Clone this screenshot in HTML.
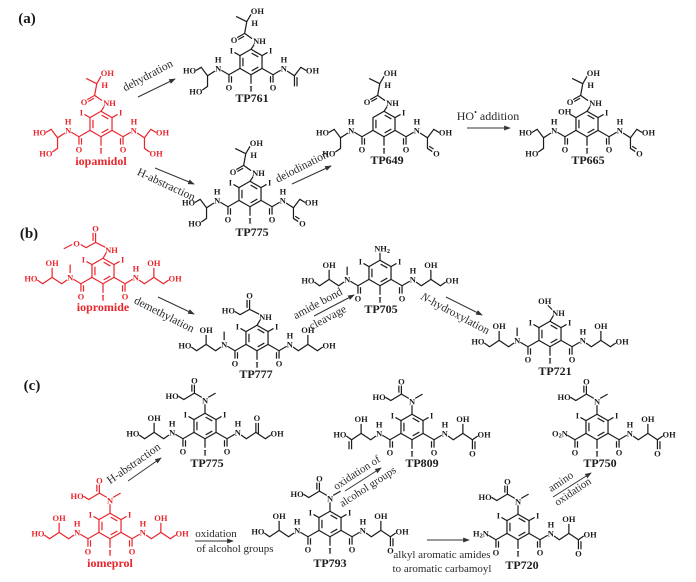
<!DOCTYPE html>
<html><head><meta charset="utf-8"><style>
html,body{margin:0;padding:0;background:#fff;}
svg{display:block;}
text{font-family:"Liberation Serif",serif;}
.t{font-size:8px;font-weight:bold;text-anchor:middle;dominant-baseline:central;fill:currentColor;}
.lb{font-size:12px;font-weight:bold;text-anchor:middle;dominant-baseline:central;}
.ar{font-size:12px;text-anchor:middle;dominant-baseline:central;fill:#2a2a2a;}
.ar3{font-size:11.5px;text-anchor:middle;dominant-baseline:central;fill:#2a2a2a;}
.ar2{font-size:11px;text-anchor:middle;dominant-baseline:central;fill:#2a2a2a;}
.pl{font-size:15px;font-weight:bold;text-anchor:middle;dominant-baseline:central;fill:#1a1a1a;}
.k{color:#1c1c1c;}
.r{color:#e8262d;}
.m path{fill:none;stroke:currentColor;stroke-width:1.15;}
.arr{stroke:#333;stroke-width:1;fill:none;}
</style></head><body>
<svg width="696" height="582" viewBox="0 0 696 582" xmlns="http://www.w3.org/2000/svg">
<defs>
<g id="ring" fill="none" stroke="currentColor" stroke-width="1.15">
<polygon points="0,-12 10.4,-6 10.4,6 0,12 -10.4,6 -10.4,-6"/>
<path d="M-7.6,-4V4M0.6,-8.4L6.9,-4.8M0.6,8.4L6.9,4.8"/>
<path d="M-10.4,6L-20.8,12L-28,7.8M-20.8,12V19.5M-18.4,13.4V19.5M10.4,6L20.8,12L28,7.8M20.8,12V19.5M18.4,13.4V19.5M0,12V20.5M10.4,-6L15.6,-9"/>
</g>
<path id="uli" d="M-10.4,-6L-15.6,-9" fill="none" stroke="currentColor" stroke-width="1.15"/>
<marker id="ah" viewBox="0 0 8 6" refX="7" refY="3" markerWidth="7" markerHeight="5" orient="auto" markerUnits="userSpaceOnUse">
<path d="M0,0L8,3L0,6z" fill="#333"/>
</marker>
</defs>

<rect width="696" height="582" fill="#fff"/>

<!-- panel labels -->
<text class="pl" x="27" y="19">(a)</text>
<text class="pl" x="29" y="234">(b)</text>
<text class="pl" x="32" y="386">(c)</text>

<!-- ============ ROW A ============ -->
<!-- iopamidol -->
<g class="m r" transform="translate(101,124) scale(1.06)">
<use href="#ring"/><use href="#uli"/>
<path d="M0,-12L3,-16.5M1,-22L-6,-27M-6,-27L-13,-23M-6.5,-24.3L-12,-21.2M-6,-27L-4,-38M-4,-38L-14,-43M-4,-38L0,-45"/>
<path d="M-34,8.5L-41,13L-47,5L-52,8M-41,13V23L-46,26.5M34,8.5L41,13L47,5L52,8M41,13V23L46,26.5"/>
<text class="t" x="8" y="-20">NH</text><text class="t" x="-16" y="-21">O</text><text class="t" x="3.5" y="-37">H</text><text class="t" x="6" y="-48">OH</text>
<text class="t" x="-18.5" y="-11">I</text><text class="t" x="18.5" y="-11">I</text><text class="t" x="0" y="25">I</text>
<text class="t" x="-20.8" y="24">O</text><text class="t" x="20.8" y="24">O</text>
<text class="t" x="-31" y="6">N</text><text class="t" x="-31" y="-2.5">H</text><text class="t" x="31" y="6">N</text><text class="t" x="31" y="-2.5">H</text>
<text class="t" x="-58" y="8">HO</text><text class="t" x="-52" y="28">HO</text><text class="t" x="58" y="8">OH</text><text class="t" x="52" y="28">OH</text>
</g>
<text class="lb" x="101" y="161" fill="#e8262d">iopamidol</text>

<!-- TP761 -->
<g class="m k" transform="translate(251,62) scale(1.06)">
<use href="#ring"/><use href="#uli"/>
<path d="M0,-12L3,-16.5M1,-22L-6,-27M-6,-27L-13,-23M-6.5,-24.3L-12,-21.2M-6,-27L-4,-38M-4,-38L-14,-43M-4,-38L0,-45"/>
<path d="M-34,8.5L-41,13L-47,5L-52,8M-41,13V23L-46,26.5M34,8.5L41,13L47,5L52,8M41,13V23M43.4,14.3V23"/>
<text class="t" x="8" y="-20">NH</text><text class="t" x="-16" y="-21">O</text><text class="t" x="3.5" y="-37">H</text><text class="t" x="6" y="-48">OH</text>
<text class="t" x="-18.5" y="-11">I</text><text class="t" x="18.5" y="-11">I</text><text class="t" x="0" y="25">I</text>
<text class="t" x="-20.8" y="24">O</text><text class="t" x="20.8" y="24">O</text>
<text class="t" x="-31" y="6">N</text><text class="t" x="-31" y="-2.5">H</text><text class="t" x="31" y="6">N</text><text class="t" x="31" y="-2.5">H</text>
<text class="t" x="-58" y="8">HO</text><text class="t" x="-52" y="28">HO</text><text class="t" x="58" y="8">OH</text>
</g>
<text class="lb" x="252" y="98" fill="#1c1c1c">TP761</text>

<!-- TP775 (a) -->
<g class="m k" transform="translate(250,194) scale(1.06)">
<use href="#ring"/><use href="#uli"/>
<path d="M0,-12L3,-16.5M1,-22L-6,-27M-6,-27L-13,-23M-6.5,-24.3L-12,-21.2M-6,-27L-4,-38M-4,-38L-14,-43M-4,-38L0,-45"/>
<path d="M-34,8.5L-41,13L-47,5L-52,8M-41,13V23L-46,26.5M34,8.5L41,13L47,5L52,8M41,13V23L45.5,26M42.6,21L46.7,23.6"/>
<text class="t" x="8" y="-20">NH</text><text class="t" x="-16" y="-21">O</text><text class="t" x="3.5" y="-37">H</text><text class="t" x="6" y="-48">OH</text>
<text class="t" x="-18.5" y="-11">I</text><text class="t" x="18.5" y="-11">I</text><text class="t" x="0" y="25">I</text>
<text class="t" x="-20.8" y="24">O</text><text class="t" x="20.8" y="24">O</text>
<text class="t" x="-31" y="6">N</text><text class="t" x="-31" y="-2.5">H</text><text class="t" x="31" y="6">N</text><text class="t" x="31" y="-2.5">H</text>
<text class="t" x="-58" y="8">HO</text><text class="t" x="-52" y="28">HO</text><text class="t" x="58" y="8">OH</text><text class="t" x="49.5" y="28">O</text>
</g>
<text class="lb" x="252" y="232" fill="#1c1c1c">TP775</text>

<!-- TP649 -->
<g class="m k" transform="translate(384,124) scale(1.06)">
<use href="#ring"/>
<path d="M0,-12L3,-16.5M1,-22L-6,-27M-6,-27L-13,-23M-6.5,-24.3L-12,-21.2M-6,-27L-4,-38M-4,-38L-14,-43M-4,-38L0,-45"/>
<path d="M-34,8.5L-41,13L-47,5L-52,8M-41,13V23L-46,26.5M34,8.5L41,13L47,5L52,8M41,13V23L45.5,26M42.6,21L46.7,23.6"/>
<text class="t" x="8" y="-20">NH</text><text class="t" x="-16" y="-21">O</text><text class="t" x="3.5" y="-37">H</text><text class="t" x="6" y="-48">OH</text>
<text class="t" x="18.5" y="-11">I</text><text class="t" x="0" y="25">I</text>
<text class="t" x="-20.8" y="24">O</text><text class="t" x="20.8" y="24">O</text>
<text class="t" x="-31" y="6">N</text><text class="t" x="-31" y="-2.5">H</text><text class="t" x="31" y="6">N</text><text class="t" x="31" y="-2.5">H</text>
<text class="t" x="-58" y="8">HO</text><text class="t" x="-52" y="28">HO</text><text class="t" x="58" y="8">OH</text><text class="t" x="49.5" y="28">O</text>
</g>
<text class="lb" x="387" y="160" fill="#1c1c1c">TP649</text>

<!-- TP665 -->
<g class="m k" transform="translate(587,124) scale(1.06)">
<use href="#ring"/><use href="#uli"/>
<path d="M0,-12L3,-16.5M1,-22L-6,-27M-6,-27L-13,-23M-6.5,-24.3L-12,-21.2M-6,-27L-4,-38M-4,-38L-14,-43M-4,-38L0,-45"/>
<path d="M-34,8.5L-41,13L-47,5L-52,8M-41,13V23L-46,26.5M34,8.5L41,13L47,5L52,8M41,13V23L45.5,26M42.6,21L46.7,23.6"/>
<text class="t" x="8" y="-20">NH</text><text class="t" x="-16" y="-21">O</text><text class="t" x="3.5" y="-37">H</text><text class="t" x="6" y="-48">OH</text>
<text class="t" x="-21" y="-12">OH</text><text class="t" x="18.5" y="-11">I</text><text class="t" x="0" y="25">I</text>
<text class="t" x="-20.8" y="24">O</text><text class="t" x="20.8" y="24">O</text>
<text class="t" x="-31" y="6">N</text><text class="t" x="-31" y="-2.5">H</text><text class="t" x="31" y="6">N</text><text class="t" x="31" y="-2.5">H</text>
<text class="t" x="-58" y="8">HO</text><text class="t" x="-52" y="28">HO</text><text class="t" x="58" y="8">OH</text><text class="t" x="49.5" y="28">O</text>
</g>
<text class="lb" x="588" y="160" fill="#1c1c1c">TP665</text>

<!-- row a arrows -->
<line class="arr" x1="138" y1="97" x2="175" y2="79" marker-end="url(#ah)"/>
<text class="ar3" transform="translate(148,76) rotate(-28)">dehydration</text>
<line class="arr" x1="155" y1="168" x2="194" y2="184" marker-end="url(#ah)"/>
<text class="ar3" transform="translate(166,185) rotate(25)">H-abstraction</text>
<line class="arr" x1="292" y1="184" x2="331" y2="166" marker-end="url(#ah)"/>
<text class="ar3" transform="translate(302,167) rotate(-27)">deiodination</text>
<line class="arr" x1="467" y1="128" x2="510" y2="128" marker-end="url(#ah)"/>
<text class="ar" x="488" y="116">HO<tspan dy="-4" font-size="8">•</tspan><tspan dy="4"> addition</tspan></text>

<!-- ============ ROW B ============ -->
<!-- iopromide -->
<g class="m r" transform="translate(103,271) scale(1.06)">
<use href="#ring"/><use href="#uli"/>
<path d="M0,-12L3,-17M2,-22.5L-7,-27M-7,-27V-36M-9.4,-28.4V-36M-7,-27L-16,-22L-21,-25M-29,-25L-37,-21"/>
<path d="M-31,2V-6M-34,8.5L-39,12L-48,6L-57,12L-62,8.5M-48,6V-3M34,8.5L39,12L48,6L57,12L62,8.5M48,6V-3"/>
<text class="t" x="8" y="-20">NH</text><text class="t" x="-7" y="-40">O</text><text class="t" x="-25" y="-26">O</text>
<text class="t" x="-18.5" y="-11">I</text><text class="t" x="18.5" y="-11">I</text><text class="t" x="0" y="25">I</text>
<text class="t" x="-20.8" y="24">O</text><text class="t" x="20.8" y="24">O</text>
<text class="t" x="-31" y="6">N</text><text class="t" x="31" y="6">N</text><text class="t" x="31" y="-2.5">H</text>
<text class="t" x="-48" y="-7.5">OH</text><text class="t" x="-68" y="7">HO</text><text class="t" x="48" y="-7.5">OH</text><text class="t" x="68" y="7">OH</text>
</g>
<text class="lb" x="103" y="307" fill="#e8262d">iopromide</text>

<!-- TP777 -->
<g class="m k" transform="translate(257,338) scale(1.06)">
<use href="#ring"/><use href="#uli"/>
<path d="M0,-12L3,-17M2,-22.5L-7,-27M-7,-27V-36M-9.4,-28.4V-36M-7,-27L-16,-22L-21,-25"/>
<path d="M-31,2V-6M-34,8.5L-39,12L-48,6L-57,12L-62,8.5M-48,6V-3M34,8.5L39,12L48,6L57,12L62,8.5M48,6V-3"/>
<text class="t" x="8" y="-20">NH</text><text class="t" x="-7" y="-40">O</text><text class="t" x="-27" y="-26">HO</text>
<text class="t" x="-18.5" y="-11">I</text><text class="t" x="18.5" y="-11">I</text><text class="t" x="0" y="25">I</text>
<text class="t" x="-20.8" y="24">O</text><text class="t" x="20.8" y="24">O</text>
<text class="t" x="-31" y="6">N</text><text class="t" x="31" y="6">N</text><text class="t" x="31" y="-2.5">H</text>
<text class="t" x="-48" y="-7.5">OH</text><text class="t" x="-68" y="7">HO</text><text class="t" x="48" y="-7.5">OH</text><text class="t" x="68" y="7">OH</text>
</g>
<text class="lb" x="256" y="374" fill="#1c1c1c">TP777</text>

<!-- TP705 -->
<g class="m k" transform="translate(380,273) scale(1.06)">
<use href="#ring"/><use href="#uli"/>
<path d="M0,-12V-19"/>
<path d="M-31,2V-6M-34,8.5L-39,12L-48,6L-57,12L-62,8.5M-48,6V-3M34,8.5L39,12L48,6L57,12L62,8.5M48,6V-3"/>
<text class="t" x="2" y="-23">NH<tspan font-size="6" dy="2">2</tspan></text>
<text class="t" x="-18.5" y="-11">I</text><text class="t" x="18.5" y="-11">I</text><text class="t" x="0" y="25">I</text>
<text class="t" x="-20.8" y="24">O</text><text class="t" x="20.8" y="24">O</text>
<text class="t" x="-31" y="6">N</text><text class="t" x="31" y="6">N</text><text class="t" x="31" y="-2.5">H</text>
<text class="t" x="-48" y="-7.5">OH</text><text class="t" x="-68" y="7">HO</text><text class="t" x="48" y="-7.5">OH</text><text class="t" x="68" y="7">OH</text>
</g>
<text class="lb" x="381" y="309" fill="#1c1c1c">TP705</text>

<!-- TP721 -->
<g class="m k" transform="translate(550,334) scale(1.06)">
<use href="#ring"/><use href="#uli"/>
<path d="M0,-12L3,-17M2,-23L-2,-27"/>
<path d="M-31,2V-6M-34,8.5L-39,12L-48,6L-57,12L-62,8.5M-48,6V-3M34,8.5L39,12L48,6L57,12L62,8.5M48,6V-3"/>
<text class="t" x="8" y="-20">NH</text><text class="t" x="-5" y="-31">OH</text>
<text class="t" x="-18.5" y="-11">I</text><text class="t" x="18.5" y="-11">I</text><text class="t" x="0" y="25">I</text>
<text class="t" x="-20.8" y="24">O</text><text class="t" x="20.8" y="24">O</text>
<text class="t" x="-31" y="6">N</text><text class="t" x="31" y="6">N</text><text class="t" x="31" y="-2.5">H</text>
<text class="t" x="-48" y="-7.5">OH</text><text class="t" x="-68" y="7">HO</text><text class="t" x="48" y="-7.5">OH</text><text class="t" x="68" y="7">OH</text>
</g>
<text class="lb" x="555" y="371" fill="#1c1c1c">TP721</text>

<!-- row b arrows -->
<line class="arr" x1="158" y1="297" x2="194" y2="314" marker-end="url(#ah)"/>
<text class="ar3" transform="translate(164,315) rotate(27)">demethylation</text>
<line class="arr" x1="314" y1="316" x2="354" y2="295" marker-end="url(#ah)"/>
<text class="ar3" transform="translate(318,304) rotate(-28)">amide bond</text>
<text class="ar3" transform="translate(328,318) rotate(-28)">cleavage</text>
<line class="arr" x1="446" y1="297" x2="482" y2="315" marker-end="url(#ah)"/>
<text class="ar3" transform="translate(455,314) rotate(28)"><tspan font-style="italic">N</tspan>-hydroxylation</text>

<!-- ============ ROW C ============ -->
<!-- TP775 (c) -->
<g class="m k" transform="translate(205,426) scale(1.06)">
<use href="#ring"/><use href="#uli"/>
<path d="M0,-12V-20.5M3,-27L10,-31M-3,-27L-10,-31M-10,-31V-39M-12.4,-32.4V-39M-10,-31L-20,-25L-25,-28"/>
<path d="M-34,8.5L-39,12L-48,6L-57,12L-62,8.5M-48,6V-3M34,8.5L39,12L48,6L57,12L62,8.5M48,6V-3M50.4,7.4V-3"/>
<text class="t" x="0" y="-24">N</text><text class="t" x="-10" y="-43">O</text><text class="t" x="-31" y="-28.5">HO</text>
<text class="t" x="-18.5" y="-11">I</text><text class="t" x="18.5" y="-11">I</text><text class="t" x="0" y="25">I</text>
<text class="t" x="-20.8" y="24">O</text><text class="t" x="20.8" y="24">O</text>
<text class="t" x="-31" y="6">N</text><text class="t" x="-31" y="-2.5">H</text><text class="t" x="31" y="6">N</text><text class="t" x="31" y="-2.5">H</text>
<text class="t" x="-48" y="-7.5">OH</text><text class="t" x="-68" y="7">HO</text><text class="t" x="49" y="-7.5">O</text><text class="t" x="68" y="7">OH</text>
</g>
<text class="lb" x="207" y="463" fill="#1c1c1c">TP775</text>

<!-- iomeprol -->
<g class="m r" transform="translate(110,526) scale(1.06)">
<use href="#ring"/><use href="#uli"/>
<path d="M0,-12V-20.5M3,-27L10,-31M-3,-27L-10,-31M-10,-31V-39M-12.4,-32.4V-39M-10,-31L-20,-25L-25,-28"/>
<path d="M-34,8.5L-39,12L-48,6L-57,12L-62,8.5M-48,6V-3M34,8.5L39,12L48,6L57,12L62,8.5M48,6V-3"/>
<text class="t" x="0" y="-24">N</text><text class="t" x="-10" y="-43">O</text><text class="t" x="-31" y="-28.5">HO</text>
<text class="t" x="-18.5" y="-11">I</text><text class="t" x="18.5" y="-11">I</text><text class="t" x="0" y="25">I</text>
<text class="t" x="-20.8" y="24">O</text><text class="t" x="20.8" y="24">O</text>
<text class="t" x="-31" y="6">N</text><text class="t" x="-31" y="-2.5">H</text><text class="t" x="31" y="6">N</text><text class="t" x="31" y="-2.5">H</text>
<text class="t" x="-48" y="-7.5">OH</text><text class="t" x="-68" y="7">HO</text><text class="t" x="48" y="-7.5">OH</text><text class="t" x="68" y="7">OH</text>
</g>
<text class="lb" x="110" y="563" fill="#e8262d">iomeprol</text>

<!-- TP793 -->
<g class="m k" transform="translate(330,524) scale(1.06)">
<use href="#ring"/><use href="#uli"/>
<path d="M0,-12V-20.5M3,-27L10,-31M-3,-27L-10,-31M-10,-31V-39M-12.4,-32.4V-39M-10,-31L-20,-25L-25,-28"/>
<path d="M-34,8.5L-39,12L-48,6L-57,12L-62,8.5M-48,6V-3M34,8.5L39,12L48,6L57,12L62,8.5M48,6V-3M57,12V21M59.4,13.4V21"/>
<text class="t" x="0" y="-24">N</text><text class="t" x="-10" y="-43">O</text><text class="t" x="-31" y="-28.5">HO</text>
<text class="t" x="-18.5" y="-11">I</text><text class="t" x="18.5" y="-11">I</text><text class="t" x="0" y="25">I</text>
<text class="t" x="-20.8" y="24">O</text><text class="t" x="20.8" y="24">O</text>
<text class="t" x="-31" y="6">N</text><text class="t" x="-31" y="-2.5">H</text><text class="t" x="31" y="6">N</text><text class="t" x="31" y="-2.5">H</text>
<text class="t" x="-48" y="-7.5">OH</text><text class="t" x="-68" y="7">HO</text><text class="t" x="48" y="-7.5">OH</text><text class="t" x="68" y="7">OH</text><text class="t" x="57" y="25">O</text>
</g>
<text class="lb" x="330" y="563" fill="#1c1c1c">TP793</text>

<!-- TP809 -->
<g class="m k" transform="translate(412,427) scale(1.06)">
<use href="#ring"/><use href="#uli"/>
<path d="M0,-12V-20.5M3,-27L10,-31M-3,-27L-10,-31M-10,-31V-39M-12.4,-32.4V-39M-10,-31L-20,-25L-25,-28"/>
<path d="M-34,8.5L-39,12L-48,6L-57,12L-62,8.5M-48,6V-3M-57,12V21M-59.4,13.4V21M34,8.5L39,12L48,6L57,12L62,8.5M48,6V-3M57,12V21M59.4,13.4V21"/>
<text class="t" x="0" y="-24">N</text><text class="t" x="-10" y="-43">O</text><text class="t" x="-31" y="-28.5">HO</text>
<text class="t" x="-18.5" y="-11">I</text><text class="t" x="18.5" y="-11">I</text><text class="t" x="0" y="25">I</text>
<text class="t" x="-20.8" y="24">O</text><text class="t" x="20.8" y="24">O</text>
<text class="t" x="-31" y="6">N</text><text class="t" x="-31" y="-2.5">H</text><text class="t" x="31" y="6">N</text><text class="t" x="31" y="-2.5">H</text>
<text class="t" x="-48" y="-7.5">OH</text><text class="t" x="-68" y="7">HO</text><text class="t" x="48" y="-7.5">OH</text><text class="t" x="68" y="7">OH</text><text class="t" x="57" y="25">O</text>
</g>
<text class="lb" x="422" y="463" fill="#1c1c1c">TP809</text>

<!-- TP720 -->
<g class="m k" transform="translate(518,527) scale(1.06)">
<use href="#ring"/><use href="#uli"/>
<path d="M0,-12V-20.5M3,-27L10,-31M-3,-27L-10,-31M-10,-31V-39M-12.4,-32.4V-39M-10,-31L-20,-25L-25,-28"/>
<path d="M34,8.5L39,12L48,6L57,12L62,8.5M48,6V-3M57,12V21M59.4,13.4V21"/>
<text class="t" x="0" y="-24">N</text><text class="t" x="-10" y="-43">O</text><text class="t" x="-31" y="-28.5">HO</text>
<text class="t" x="-18.5" y="-11">I</text><text class="t" x="18.5" y="-11">I</text><text class="t" x="0" y="25">I</text>
<text class="t" x="-20.8" y="24">O</text><text class="t" x="20.8" y="24">O</text>
<text class="t" x="-35" y="6">H<tspan font-size="6" dy="2">2</tspan><tspan dy="-2">N</tspan></text><text class="t" x="31" y="6">N</text><text class="t" x="31" y="-2.5">H</text>
<text class="t" x="48" y="-7.5">OH</text><text class="t" x="68" y="7">OH</text><text class="t" x="57" y="25">O</text>
</g>
<text class="lb" x="522" y="565" fill="#1c1c1c">TP720</text>

<!-- TP750 -->
<g class="m k" transform="translate(597,427) scale(1.06)">
<use href="#ring"/><use href="#uli"/>
<path d="M0,-12V-20.5M3,-27L10,-31M-3,-27L-10,-31M-10,-31V-39M-12.4,-32.4V-39M-10,-31L-20,-25L-25,-28"/>
<path d="M34,8.5L39,12L48,6L57,12L62,8.5M48,6V-3M57,12V21M59.4,13.4V21"/>
<text class="t" x="0" y="-24">N</text><text class="t" x="-10" y="-43">O</text><text class="t" x="-31" y="-28.5">HO</text>
<text class="t" x="-18.5" y="-11">I</text><text class="t" x="18.5" y="-11">I</text><text class="t" x="0" y="25">I</text>
<text class="t" x="-20.8" y="24">O</text><text class="t" x="20.8" y="24">O</text>
<text class="t" x="-35" y="6">O<tspan font-size="6" dy="2">2</tspan><tspan dy="-2">N</tspan></text><text class="t" x="31" y="6">N</text><text class="t" x="31" y="-2.5">H</text>
<text class="t" x="48" y="-7.5">OH</text><text class="t" x="68" y="7">OH</text><text class="t" x="57" y="25">O</text>
</g>
<text class="lb" x="600" y="463" fill="#1c1c1c">TP750</text>

<!-- row c arrows -->
<line class="arr" x1="128" y1="481" x2="161" y2="458" marker-end="url(#ah)"/>
<text class="ar3" transform="translate(134,464) rotate(-35)">H-abstraction</text>
<text class="ar2" x="216" y="534">oxidation</text>
<line class="arr" x1="195" y1="541" x2="233" y2="541" marker-end="url(#ah)"/>
<text class="ar2" x="235" y="549">of alcohol groups</text>
<line class="arr" x1="345" y1="491" x2="381" y2="468" marker-end="url(#ah)"/>
<text class="ar2" transform="translate(357,473) rotate(-33)">oxidation of</text>
<text class="ar2" transform="translate(368,487) rotate(-33)">alcohol groups</text>
<line class="arr" x1="427" y1="540" x2="469" y2="540" marker-end="url(#ah)"/>
<text class="ar2" x="442" y="555">alkyl aromatic amides</text>
<text class="ar2" x="442" y="569">to aromatic carbamoyl</text>
<line class="arr" x1="553" y1="497" x2="591" y2="473" marker-end="url(#ah)"/>
<text class="ar2" transform="translate(561,482) rotate(-34)">amino</text>
<text class="ar2" transform="translate(573,492) rotate(-34)">oxidation</text>
</svg>
</body></html>
